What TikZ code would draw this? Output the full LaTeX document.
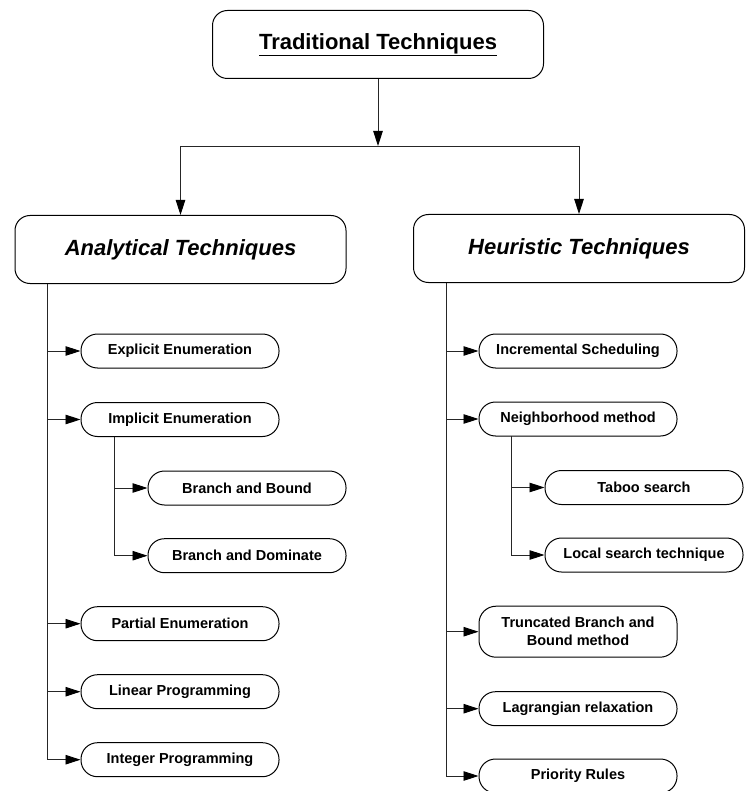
\documentclass[tikz,border=0pt]{standalone}
\usepackage{fontspec}
\setmainfont{Liberation Sans}
\usetikzlibrary{arrows.meta}
\begin{document}
\begin{tikzpicture}[x=1pt,y=-1pt,
  bigbox/.style={draw=black, line width=1pt, rounded corners=15pt, minimum width=331pt, minimum height=68pt, inner sep=0pt, align=center, font=\fontsize{22}{26}\selectfont\bfseries},
  smallbox/.style={draw=black, line width=1pt, rounded corners=16.5pt, minimum width=198pt, minimum height=34pt, inner sep=0pt, align=center, font=\fontsize{14.5}{18}\selectfont\bfseries},
  conn/.style={draw=black!85, line width=0.9pt},
  arr/.style={conn, -{Triangle[length=15pt,width=9.5pt,color=black]}}
]
\useasboundingbox (0,0) rectangle (746,791);
% top level
\node[bigbox] (top) at (378,44.5) {\underline{Traditional Techniques}};
\node[bigbox, font=\fontsize{22}{26}\selectfont\bfseries\itshape] (ana) at (180.5,249.5) {Analytical Techniques};
\node[bigbox, font=\fontsize{22}{26}\selectfont\bfseries\itshape] (heu) at (579,248.5) {Heuristic Techniques};
\coordinate (j) at (378,146);
\coordinate (jl) at (180.5,146);
\coordinate (jr) at (579,146);
\draw[arr] (top.south) -- (j);
\draw[conn] (jl) -- (jr);
\draw[arr] (jl) -- (ana.north);
\draw[arr] (jr) -- (heu.north);
% analytical children
\node[smallbox] (ee) at (180,351) {Explicit Enumeration};
\node[smallbox] (ie) at (180,419.5) {Implicit Enumeration};
\node[smallbox] (bb) at (247,488) {Branch and Bound};
\node[smallbox] (bd) at (247,555.7) {Branch and Dominate};
\node[smallbox] (pe) at (180,623.7) {Partial Enumeration};
\node[smallbox] (lp) at (180,691.7) {Linear Programming};
\node[smallbox] (ip) at (180,759.7) {Integer Programming};
\coordinate (la) at (47.7,284);
\draw[conn] (la) -- (la |- ip);
\foreach \n in {ee,ie,pe,lp,ip} \draw[arr] (la |- \n) -- (\n.west);
\coordinate (ia) at (114,436.7);
\draw[arr] (ia) |- (bd.west);
\draw[arr] (ia |- bb) -- (bb.west);
% heuristic children
\node[smallbox] (is) at (578,351) {Incremental Scheduling};
\node[smallbox] (nm) at (578,419) {Neighborhood method};
\node[smallbox] (tb) at (644,487.5) {Taboo search};
\node[smallbox] (ls) at (644,555) {Local search technique};
\node[smallbox, minimum height=51pt, rounded corners=17pt] (tr) at (578,631.7) {Truncated Branch and\\Bound method};
\node[smallbox] (lr) at (578,708.7) {Lagrangian relaxation};
\node[smallbox] (pr) at (578,776) {Priority Rules};
\coordinate (ra) at (446,283);
\draw[conn] (ra) -- (ra |- pr);
\foreach \n in {is,nm,tr,lr,pr} \draw[arr] (ra |- \n) -- (\n.west);
\coordinate (na) at (511.5,436);
\draw[arr] (na) |- (ls.west);
\draw[arr] (na |- tb) -- (tb.west);
\end{tikzpicture}
\end{document}
